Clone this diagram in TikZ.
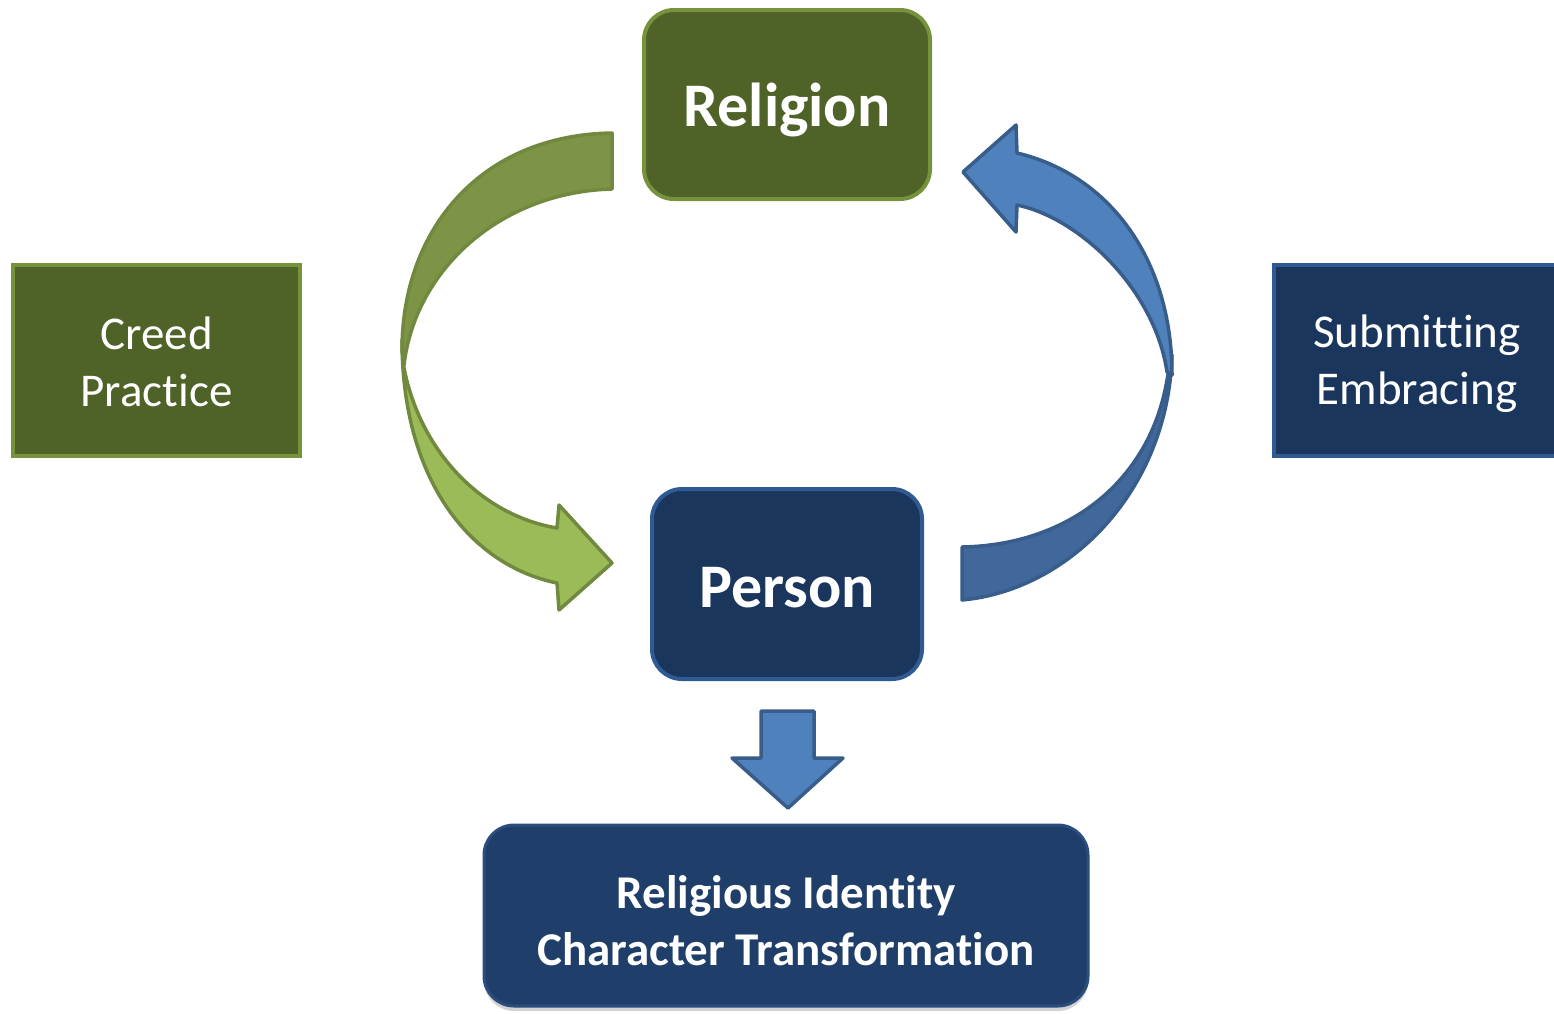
\documentclass[tikz,border=0pt]{standalone}
\usepackage{fontspec}
\setmainfont{Carlito}[RawFeature={-liga}]
\usetikzlibrary{shadows}
\definecolor{gdark}{HTML}{4F6228}
\definecolor{gline}{HTML}{76923C}
\definecolor{garrow}{HTML}{9BBB59}
\definecolor{garrowback}{HTML}{7D9446}
\definecolor{garrowline}{HTML}{71893F}
\definecolor{navy}{HTML}{1B365D}
\definecolor{navyline}{HTML}{2F5A93}
\definecolor{barrow}{HTML}{4F81BD}
\definecolor{barrowback}{HTML}{41689A}
\definecolor{barrowline}{HTML}{385D8A}
\definecolor{bottomfill}{HTML}{1F3E69}
\definecolor{bottomline}{HTML}{2B4D7E}
\tikzset{
  greenbox/.style={draw=gline, fill=gdark, line width=4pt},
  navybox/.style={draw=navyline, fill=navy, line width=4pt},
  lbl/.style={text=white, align=center, inner sep=0pt},
  bigtxt/.style={lbl, font=\fontsize{62}{70}\selectfont\bfseries},
  sidetxt/.style={lbl, font=\fontsize{47}{57}\selectfont},
  bottxt/.style={lbl, font=\fontsize{47}{57}\selectfont\bfseries},
  garrowfront/.style={fill=garrow, draw=garrowline, line width=3.5pt, line join=round},
  garrowrear/.style={fill=garrowback, draw=garrowline, line width=3.5pt, line join=round},
  barrowfront/.style={fill=barrow, draw=barrowline, line width=3.5pt, line join=round},
  barrowrear/.style={fill=barrowback, draw=barrowline, line width=3.5pt, line join=round},
}
\begin{document}
\begin{tikzpicture}[x=1pt,y=-1pt]
\useasboundingbox (0,0) rectangle (1554,1013);
% boxes
\node[greenbox, rounded corners=30pt, minimum width=286pt, minimum height=189pt] (religion) at (787,104.5) {};
\node[bigtxt] (religiontxt) at ([yshift=-5pt]religion.center) {Religion};
\node[navybox, rounded corners=30pt, minimum width=270pt, minimum height=190pt] (person) at (787,584) {};
\node[bigtxt] (persontxt) at ([yshift=-4pt]person.center) {Person};
\node[greenbox, minimum width=287pt, minimum height=191pt] (creed) at (156.5,360.5) {};
\node[sidetxt] (creedtxt) at ([yshift=-1pt]creed.center) {Creed\\Practice};
\node[navybox, minimum width=286pt, minimum height=191pt] (submit) at (1417,360.5) {};
\node[sidetxt] (submittxt) at ([yshift=-3pt]submit.center) {Submitting\\Embracing};
\node[draw=bottomline, fill=bottomfill, line width=3pt,
      rounded corners=30pt, minimum width=604pt, minimum height=181pt,
      drop shadow={shadow xshift=0pt, shadow yshift=-5pt, opacity=0.35}] (result) at (786,915.5) {};
\node[bottxt] (resulttxt) at ([yshift=-5pt]result.center) {Religious Identity\\Character Transformation};
% green curved arrow: rear part
\draw[garrowrear] (612,133) .. controls (480,135) and (402,230) .. (402,350)
   -- (404,365) .. controls (415,270) and (500,192) .. (612,189) -- cycle;
% green curved arrow: front part
\draw[garrowfront] (402,340) .. controls (402,480) and (470,565) .. (557,583)
   -- (559,610) -- (612,563) -- (559,505) -- (557,528)
   .. controls (480,515) and (420,450) .. (404,368) -- cycle;
% blue curved arrow: rear part
\draw[barrowrear] (1172,355) .. controls (1168,490) and (1070,590) .. (962,600)
   -- (962,547) .. controls (1070,545) and (1150,480) .. (1167,380) -- cycle;
% blue curved arrow: front part
\draw[barrowfront] (1017,153) .. controls (1110,175) and (1172,260) .. (1172,375)
   -- (1167,372) .. controls (1155,290) and (1080,218) .. (1017,205)
   -- (1016,232) -- (963,172) -- (1016,125) -- cycle;
% down arrow
\draw[barrowfront] (761,711) -- (814,711) -- (814,758) -- (843,758) -- (788,808)
   -- (732,758) -- (761,758) -- cycle;
\end{tikzpicture}
\end{document}
